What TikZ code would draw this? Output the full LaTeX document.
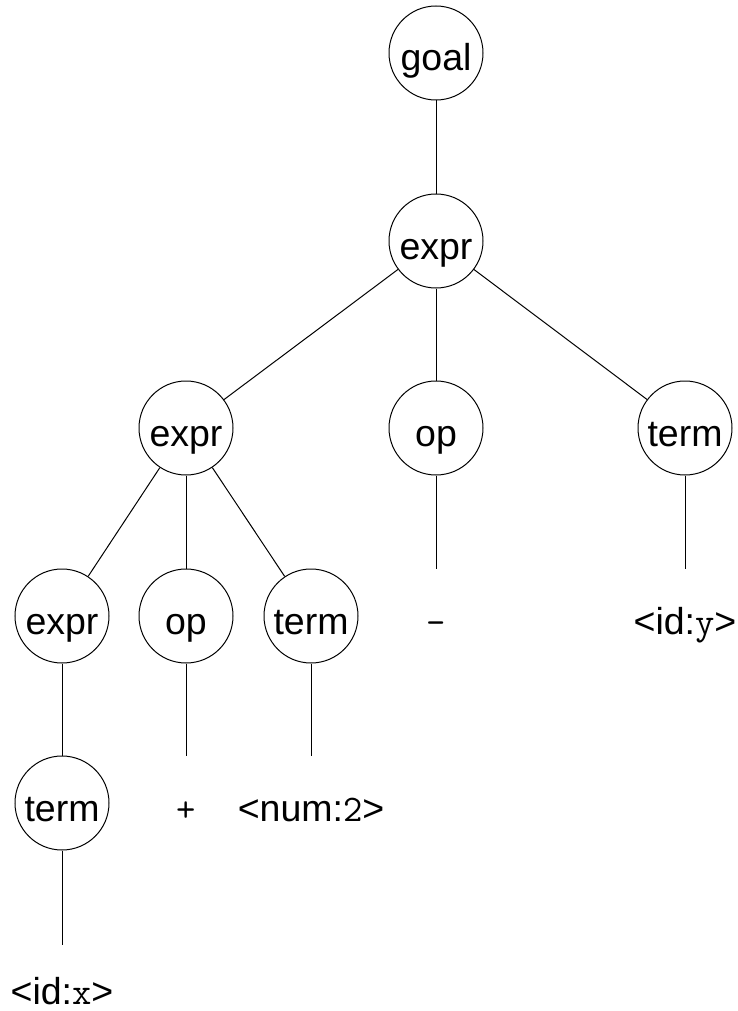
\documentclass[tikz,border=0pt]{standalone}
\usepackage{fontspec}
\setmainfont{Liberation Sans}
\begin{document}
\begin{tikzpicture}[x=1pt,y=-1pt,
  every node/.style={font=\fontsize{37.5}{42}\selectfont},
  nt/.style={circle,draw,line width=1pt,minimum size=94pt,inner sep=0pt,text height=38pt,text depth=2pt},
  leaf/.style={inner sep=0pt,anchor=base},
  edge/.style={line width=1pt}]
\useasboundingbox (0,0) rectangle (737,1011);
% nonterminals
\node[nt] (goal) at (436,53) {goal};
\node[nt] (e1) at (436,241) {expr};
\node[nt] (e2) at (186,428) {expr};
\node[nt] (o2) at (436,428) {op};
\node[nt] (t2) at (685,428) {term};
\node[nt] (e3) at (62,616) {expr};
\node[nt] (o3) at (186,616) {op};
\node[nt] (t3) at (311,616) {term};
\node[nt] (t4) at (62,803) {term};
% leaves
\node[leaf] (minus) at (436,634) {\ttfamily -};
\node[leaf] (idy) at (685,634) {<id:{\ttfamily y}>};
\node[leaf] (plus) at (186,821) {\ttfamily +};
\node[leaf] (num) at (311,821) {<num:{\ttfamily 2}>};
\node[leaf] (idx) at (62,1004) {<id:{\ttfamily x}>};
% free ends of leaf connectors
\coordinate (minusTop) at (436,569);
\coordinate (idyTop) at (685,569);
\coordinate (plusTop) at (186,756);
\coordinate (numTop) at (311,756);
\coordinate (idxTop) at (62,945);
% edges
\draw[edge] (goal) -- (e1);
\draw[edge] (e1) -- (e2);
\draw[edge] (e1) -- (o2);
\draw[edge] (e1) -- (t2);
\draw[edge] (e2) -- (e3);
\draw[edge] (e2) -- (o3);
\draw[edge] (e2) -- (t3);
\draw[edge] (e3) -- (t4);
\draw[edge] (o2) -- (minusTop);
\draw[edge] (t2) -- (idyTop);
\draw[edge] (o3) -- (plusTop);
\draw[edge] (t3) -- (numTop);
\draw[edge] (t4) -- (idxTop);
\end{tikzpicture}
\end{document}
